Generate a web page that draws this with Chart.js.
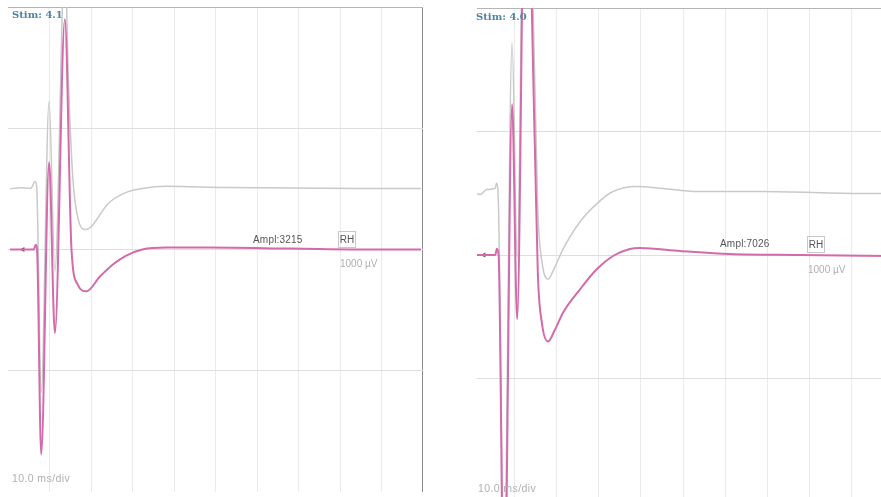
<!DOCTYPE html>
<html>
<head>
<meta charset="utf-8">
<script src="https://cdn.jsdelivr.net/npm/chart.js@4.4.0/dist/chart.umd.min.js"></script>
<style>
    html, body { margin:0; padding:0; background:#fff; overflow:hidden; width:881px; height:497px; }
    .panel { position:absolute; }
    .recorte { position:absolute; left:477px; top:0; width:404px; height:497px; overflow:hidden; }
    .lbl { position:absolute; white-space:nowrap; font-family:"Liberation Sans", Arial, sans-serif; line-height:10px; }
    .stim { font-family:"DejaVu Serif", serif; font-weight:bold; font-size:10px; color:#4f84a6; line-height:12px; }
    .ampl { font-size:10px; color:#555; letter-spacing:0.2px; }
    .rh { font-size:10px; color:#555; border:1px solid #c8c8c8; width:16px; height:15px; line-height:15px; text-align:center; }
    .uv { font-size:10px; color:#b0b0b0; }
    .div { font-size:10.5px; color:#b0b0b0; letter-spacing:0.4px; }
</style>
</head>
<body>

<div class="panel" style="left:8px;top:7px;width:415px;height:485px"><canvas id="graficoIzq"></canvas></div>
<div class="recorte">
    <div class="panel" style="left:-5px;top:8px;width:422px;height:494px"><canvas id="graficoDer"></canvas></div>
</div>

<div class="lbl stim" style="left:12px;top:9px">Stim: 4.1</div>
<div class="lbl ampl" style="left:253px;top:235px">Ampl:3215</div>
<div class="lbl rh" style="left:338px;top:231px">RH</div>
<div class="lbl uv" style="left:340px;top:259px">1000 µV</div>
<div class="lbl div" style="left:12px;top:473px">10.0 ms/div</div>

<div class="lbl stim" style="left:476px;top:11px">Stim: 4.0</div>
<div class="lbl ampl" style="left:720px;top:239px">Ampl:7026</div>
<div class="lbl rh" style="left:807px;top:236px">RH</div>
<div class="lbl uv" style="left:808px;top:265px">1000 µV</div>
<div class="lbl div" style="left:478px;top:483px">10.0 ms/div</div>

<script>
// tiempos en ms (10 ms/div), amplitudes en µV (1000 µV/div)
const izqTiempoRosa = [0.5, 6.2, 6.7, 7.0, 8.0, 9.9, 11.3, 13.7, 15.3, 16.8, 18.9, 22.1, 25.2, 28.5, 32.4, 38.1, 48.4, 68.4, 88.5, 99.5];
const izqRosa       = [0, 0, 40, 0, -1690, 720, -690, 1900, 0, -290, -345, -225, -125, -50, 0, 16, 16, 8, 0, 0];

const izqTiempoGris = [0.5, 3.0, 5.5, 6.5, 6.9, 8.0, 9.9, 11.3, 13.7, 14.6, 15.6, 16.9, 18.7, 24.4, 28.5, 32.4, 38.1, 52.5, 84.4, 99.5];
const izqGris       = [500, 510, 505, 560, 520, -1180, 1220, -180, 2400, 1350, 600, 250, 165, 388, 471, 504, 521, 512, 504, 504];

const derTiempoRosa = [0.5, 5.5, 5.9, 6.3, 7.6, 9.5, 10.7, 12.7, 14.9, 15.6, 16.6, 18.0, 19.6, 21.6, 25.6, 29.6, 33.4, 37.4, 39.8, 49.3, 61.1, 77.7, 100];
const derRosa       = [0, 0, 50, 0, -3000, 1220, -520, 3600, 870, -150, -560, -700, -610, -465, -278, -114, -8, 49, 57, 33, 8, 0, -8];

const derTiempoGris = [0.5, 2.0, 3.5, 5.5, 5.8, 6.2, 7.6, 9.5, 10.7, 12.7, 14.9, 15.6, 16.6, 18.0, 19.6, 21.6, 25.6, 29.6, 33.4, 39.1, 45.2, 53.3, 68.9, 92.6, 100];
const derGris       = [500, 490, 530, 540, 580, 480, -2500, 1720, -20, 4100, 1380, 360, -60, -196, -100, 49, 269, 416, 514, 555, 539, 514, 514, 498, 498];

// marca de estimulo sobre la linea base
const izqMarca = [3.6];
const derMarca = [2.8];

function puntos(tiempos, valores){
    return tiempos.map(function(t, i){ return {x: t, y: valores[i]}; });
}

function graficoOnda(id, tRosa, rosa, tGris, gris, marca, bordeDerecho){

    const datasets = [
        {
            data: puntos(tRosa, rosa),
            borderColor: '#d36aab',
            borderWidth: 2,
            pointRadius: 0,
            cubicInterpolationMode: 'monotone'
        },
        {
            data: puntos(tGris, gris),
            borderColor: '#c9c9c9',
            borderWidth: 1.5,
            pointRadius: 0,
            cubicInterpolationMode: 'monotone'
        },
        {
            type: 'scatter',
            data: marca.map(function(t){ return {x: t, y: 0}; }),
            pointStyle: 'triangle',
            rotation: -90,
            pointRadius: 3,
            backgroundColor: '#7a4466',
            borderWidth: 0
        }
    ];

    new Chart(document.getElementById(id), {
        type: 'line',
        data: { datasets: datasets },
        options: {
            animation: false,
            responsive: true,
            maintainAspectRatio: false,
            layout: { padding: 0, autoPadding: false },
            plugins: {
                legend: { display: false },
                tooltip: { enabled: false }
            },
            scales: {
                x: {
                    type: 'linear',
                    min: 0,
                    max: 100,
                    ticks: { display: false, stepSize: 10 },
                    border: { display: false },
                    grid: {
                        drawTicks: false,
                        color: function(ctx){
                            if(ctx.tick.value === 0) return 'rgba(0,0,0,0)';
                            if(ctx.tick.value === 100) return bordeDerecho ? '#8c8c8c' : 'rgba(0,0,0,0)';
                            return '#ebebeb';
                        },
                        lineWidth: function(ctx){
                            return ctx.tick.value === 100 ? 2 : 1;
                        }
                    }
                },
                y: {
                    min: -2000,
                    max: 2000,
                    ticks: { display: false, stepSize: 1000 },
                    border: { display: false },
                    grid: {
                        drawTicks: false,
                        color: function(ctx){
                            if(ctx.tick.value === 2000) return '#b4b4b4';
                            if(ctx.tick.value === -2000) return 'rgba(0,0,0,0)';
                            return '#dedede';
                        }
                    }
                }
            }
        }
    });
}

graficoOnda('graficoIzq', izqTiempoRosa, izqRosa, izqTiempoGris, izqGris, izqMarca, true);
graficoOnda('graficoDer', derTiempoRosa, derRosa, derTiempoGris, derGris, derMarca, false);
</script>
</body>
</html>
